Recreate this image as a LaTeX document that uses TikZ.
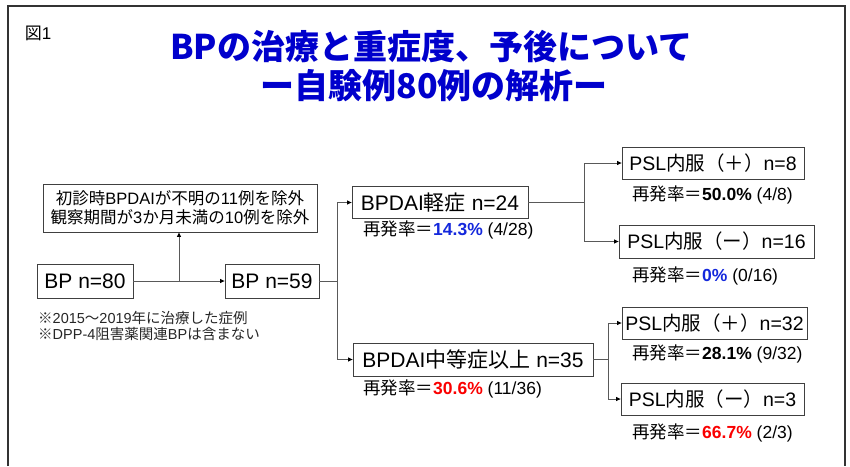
\documentclass[tikz,border=0pt]{standalone}
\usepackage{fontspec}
\setmainfont{Liberation Sans}
\newfontfamily\cjk{Noto Sans CJK JP}
\newcommand\J[1]{{\cjk #1}}
\usetikzlibrary{arrows.meta}
\definecolor{titleblue}{RGB}{0,0,204}
\definecolor{rateblue}{RGB}{20,40,220}
\definecolor{ratered}{RGB}{250,0,0}
\tikzset{
  box/.style={draw=black!75, line width=0.8pt, inner sep=0pt, font=\fontsize{21}{24}\selectfont},
  pslbox/.style={box, font=\fontsize{19.5}{22}\selectfont},
  conn/.style={draw=black!65, line width=0.9pt},
  arr/.style={conn, -{Triangle[length=4.5pt,width=4pt,color=black]}},
  rate/.style={anchor=west, inner sep=0pt, font=\fontsize{17.5}{20}\selectfont},
  note/.style={anchor=west, inner sep=0pt, align=left, font=\fontsize{14.5}{16.5}\selectfont, text=black!85},
  ttl/.style={inner sep=0pt, text=titleblue, font=\fontsize{34}{36}\selectfont\cjk\bfseries}
}
\begin{document}
\begin{tikzpicture}[x=1pt,y=-1pt]
\useasboundingbox (0,0) rectangle (850,466);
% frame
\draw[line width=1.3pt, black!80] (8,466) -- (8,6) -- (845,6) -- (845,466);
% label and title
\node[inner sep=0pt, font=\fontsize{17}{19}\selectfont] (fig) at (38,33) {\J{図}1};
\node[ttl] (t1) at (431,47) {BPの治療と重症度、予後について};
\node[ttl] (t2) at (434,86) {ー自験例80例の解析ー};
% boxes
\node[box, minimum width=96, minimum height=34] (bp80) at (85,281) {BP n=80};
\node[box, minimum width=94, minimum height=34] (bp59) at (272,281) {BP n=59};
\node[box, minimum width=274, minimum height=48, align=center, font=\fontsize{16.5}{19}\selectfont] (excl) at (180,208)
  {\J{初診時}BPDAI\J{が不明の}11\J{例を除外}\\\J{観察期間が}3\J{か月未満の}10\J{例を除外}};
\node[note] (notes) at (38,326) {\J{※}2015\J{～}2019\J{年に治療した症例}\\\J{※}DPP-4\J{阻害薬関連}BP\J{は含まない}};
\node[box, minimum width=176, minimum height=32] (mild) at (440,202.5) {BPDAI\J{軽症} n=24};
\node[box, minimum width=240, minimum height=33] (mod) at (473,359.5) {BPDAI\J{中等症以上} n=35};
\node[pslbox, minimum width=182, minimum height=32] (p1) at (713,163) {PSL\J{内服（＋）}n=8};
\node[pslbox, minimum width=195, minimum height=33] (p2) at (716.5,241.5) {PSL\J{内服（ー）}n=16};
\node[pslbox, minimum width=185, minimum height=32] (p3) at (714.5,323) {PSL\J{内服（＋）}n=32};
\node[pslbox, minimum width=183, minimum height=32] (p4) at (712.5,399) {PSL\J{内服（ー）}n=3};
% rates
\node[rate] (r0) at (363,230) {\J{再発率＝}\textbf{\textcolor{rateblue}{14.3\%}} (4/28)};
\node[rate] (r1) at (632,195) {\J{再発率＝}\textbf{50.0\%} (4/8)};
\node[rate] (r2) at (632,276) {\J{再発率＝}\textbf{\textcolor{rateblue}{0\%}} (0/16)};
\node[rate] (r3) at (363,389) {\J{再発率＝}\textbf{\textcolor{ratered}{30.6\%}} (11/36)};
\node[rate] (r4) at (632,354) {\J{再発率＝}\textbf{28.1\%} (9/32)};
\node[rate] (r5) at (632,433) {\J{再発率＝}\textbf{\textcolor{ratered}{66.7\%}} (2/3)};
% connectors
\coordinate (j0) at (179,281);
\coordinate (j1) at (337,281);
\coordinate (j2) at (584,202.5);
\coordinate (j3) at (608,359.5);
\draw[arr] (bp80.east) -- (bp59.west);
\draw[arr] (j0) -- (j0 |- excl.south);
\draw[conn] (bp59.east) -- (j1);
\draw[arr] (j1) |- (mild.west);
\draw[arr] (j1) |- (mod.west);
\draw[conn] (mild.east) -- (j2);
\draw[arr] (j2) |- (p1.west);
\draw[arr] (j2) |- (p2.west);
\draw[conn] (mod.east) -- (j3);
\draw[arr] (j3) |- (p3.west);
\draw[arr] (j3) |- (p4.west);
\end{tikzpicture}
\end{document}
